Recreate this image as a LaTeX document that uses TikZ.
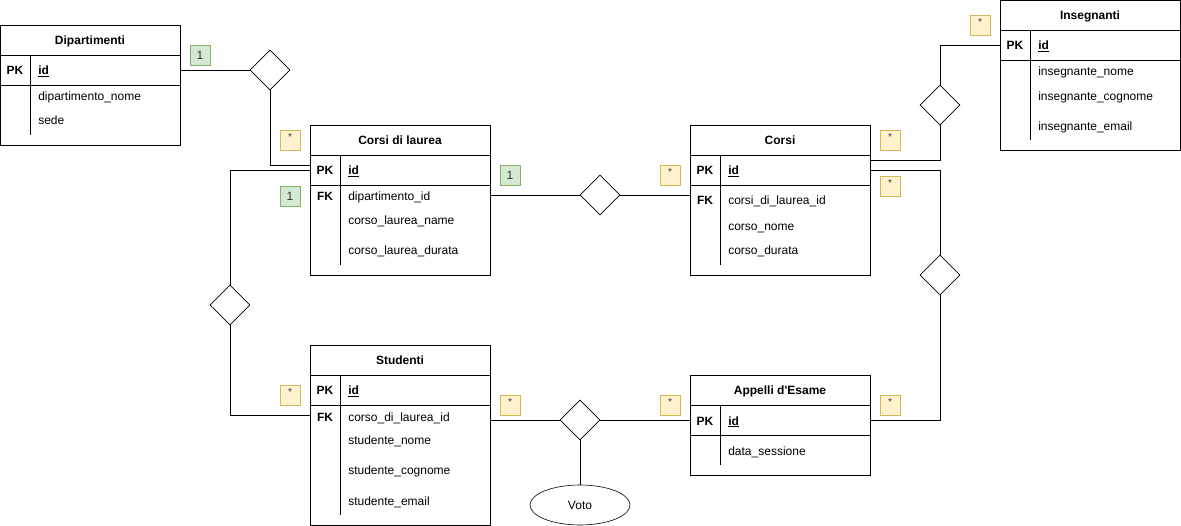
\documentclass[tikz,border=0pt]{standalone}
\usepackage{fontspec}
\setmainfont{Liberation Sans}
\usepackage{tikz}
\usetikzlibrary{shapes.geometric, positioning}

\definecolor{cardgreen}{HTML}{D5E8D4}
\definecolor{cardgreenline}{HTML}{82B366}
\definecolor{cardyellow}{HTML}{FFF2CC}
\definecolor{cardyellowline}{HTML}{D6B656}
\definecolor{cardtext}{HTML}{333333}

\begin{document}
\begin{tikzpicture}[x=1pt, y=-1pt, line width=1pt, semithick,
	tbl/.style={draw, rectangle, minimum width=180pt, inner sep=0pt, outer sep=0pt},
	title/.style={font=\fontsize{12}{14}\selectfont\bfseries, inner sep=0pt, text height=11pt, text depth=1pt},
	key/.style={font=\fontsize{12}{14}\selectfont\bfseries, inner sep=0pt, text height=11pt, text depth=1pt},
	attr/.style={font=\fontsize{12}{14}\selectfont, anchor=west, inner sep=0pt, text height=11pt, text depth=1pt},
	rel/.style={draw, diamond, minimum width=40pt, minimum height=40pt, inner sep=0pt, aspect=1, fill=white},
	one/.style={draw=cardgreenline, fill=cardgreen, minimum size=20pt, inner sep=0pt, line width=0.8pt,
		text=cardtext, font=\fontsize{12}{14}\selectfont},
	many/.style={draw=cardyellowline, fill=cardyellow, minimum size=20pt, inner sep=0pt, line width=0.8pt,
		text=cardtext, font=\fontsize{10}{12}\selectfont, text depth=6pt}]
	\useasboundingbox (0,0) rectangle (1181,526);

	% tabelle
	\node[tbl, minimum height=120pt] (dip) at (90,85) {};
	\node[title] (dip-t) at (90,40) {Dipartimenti};
	\node[key] (dip-pk) at (15,70) {PK};
	\node[attr] (dip-id) at (38,70) {\textbf{\underline{id}}};
	\node[attr] (dip-a1) at (38,96) {dipartimento\_nome};
	\node[attr] (dip-a2) at (38,120) {sede};
	\draw (0,55) -- (180,55) (0,85) -- (180,85) (30,55) -- (30,135);

	\node[tbl, minimum height=150pt] (cdl) at (400,200) {};
	\node[title] (cdl-t) at (400,140) {Corsi di laurea};
	\node[key] (cdl-pk) at (325,170) {PK};
	\node[key] (cdl-fk) at (325,196) {FK};
	\node[attr] (cdl-id) at (348,170) {\textbf{\underline{id}}};
	\node[attr] (cdl-a1) at (348,196) {dipartimento\_id};
	\node[attr] (cdl-a2) at (348,220) {corso\_laurea\_name};
	\node[attr] (cdl-a3) at (348,250) {corso\_laurea\_durata};
	\draw (310,155) -- (490,155) (310,185) -- (490,185) (340,155) -- (340,265);

	\node[tbl, minimum height=150pt] (corsi) at (780,200) {};
	\node[title] (corsi-t) at (780,140) {Corsi};
	\node[key] (corsi-pk) at (705,170) {PK};
	\node[key] (corsi-fk) at (705,200) {FK};
	\node[attr] (corsi-id) at (728,170) {\textbf{\underline{id}}};
	\node[attr] (corsi-a1) at (728,200) {corsi\_di\_laurea\_id};
	\node[attr] (corsi-a2) at (728,226) {corso\_nome};
	\node[attr] (corsi-a3) at (728,250) {corso\_durata};
	\draw (690,155) -- (870,155) (690,185) -- (870,185) (720,155) -- (720,265);

	\node[tbl, minimum height=150pt] (ins) at (1090,75) {};
	\node[title] (ins-t) at (1090,15) {Insegnanti};
	\node[key] (ins-pk) at (1015,45) {PK};
	\node[attr] (ins-id) at (1038,45) {\textbf{\underline{id}}};
	\node[attr] (ins-a1) at (1038,71) {insegnante\_nome};
	\node[attr] (ins-a2) at (1038,96) {insegnante\_cognome};
	\node[attr] (ins-a3) at (1038,126) {insegnante\_email};
	\draw (1000,30) -- (1180,30) (1000,60) -- (1180,60) (1030,30) -- (1030,140);

	\node[tbl, minimum height=180pt] (stu) at (400,435) {};
	\node[title] (stu-t) at (400,360) {Studenti};
	\node[key] (stu-pk) at (325,390) {PK};
	\node[key] (stu-fk) at (325,416) {FK};
	\node[attr] (stu-id) at (348,390) {\textbf{\underline{id}}};
	\node[attr] (stu-a1) at (348,416) {corso\_di\_laurea\_id};
	\node[attr] (stu-a2) at (348,440) {studente\_nome};
	\node[attr] (stu-a3) at (348,470) {studente\_cognome};
	\node[attr] (stu-a4) at (348,500) {studente\_email};
	\draw (310,375) -- (490,375) (310,405) -- (490,405) (340,375) -- (340,515);

	\node[tbl, minimum height=100pt] (app) at (780,425) {};
	\node[title] (app-t) at (780,390) {Appelli d\textquotesingle Esame};
	\node[key] (app-pk) at (705,420) {PK};
	\node[attr] (app-id) at (728,420) {\textbf{\underline{id}}};
	\node[attr] (app-a1) at (728,451) {data\_sessione};
	\draw (690,405) -- (870,405) (690,435) -- (870,435) (720,405) -- (720,465);

	% relazioni
	\node[rel] (r1) at (270,70) {};
	\node[rel] (r2) at (600,195) {};
	\node[rel] (r3) at (230,305) {};
	\node[rel] (r4) at (940,105) {};
	\node[rel] (r5) at (940,275) {};
	\node[rel] (r6) at (580,420) {};
	\node[draw, ellipse, minimum width=100pt, minimum height=40pt, inner sep=0pt,
		font=\fontsize{12}{14}\selectfont] (voto) at (580,505) {Voto};

	\draw (dip.east |- dip-id) -- (r1.west)
		(r1.south) |- ([yshift=5pt]cdl.west |- cdl-id)
		(cdl.east |- r2) -- (r2.west)
		(r2.east) -- (corsi.west |- r2)
		(cdl.west |- cdl-id) -| (r3.north)
		(r3.south) |- ([yshift=1pt]stu.west |- stu-fk)
		([yshift=10pt]corsi.east |- corsi-id) -| (r4.south)
		(r4.north) |- (ins.west |- ins-id)
		(corsi.east |- corsi-id) -| (r5.north)
		(r5.south) |- (app.east |- app-id)
		(stu.east |- r6) -- (r6.west)
		(r6.east) -- (app.west |- r6)
		(r6.south) -- (voto.north);

	% cardinalita
	\node[one] (c1) at (200,55) {1};
	\node[many] (c2) at (290,140) {*};
	\node[one] (c3) at (290,196) {1};
	\node[one] (c4) at (510,175) {1};
	\node[many] (c5) at (670,175) {*};
	\node[many] (c6) at (890,140) {*};
	\node[many] (c7) at (890,186) {*};
	\node[many] (c8) at (980,25) {*};
	\node[many] (c9) at (290,395) {*};
	\node[many] (c10) at (510,405) {*};
	\node[many] (c11) at (670,405) {*};
	\node[many] (c12) at (890,405) {*};
\end{tikzpicture}
\end{document}
